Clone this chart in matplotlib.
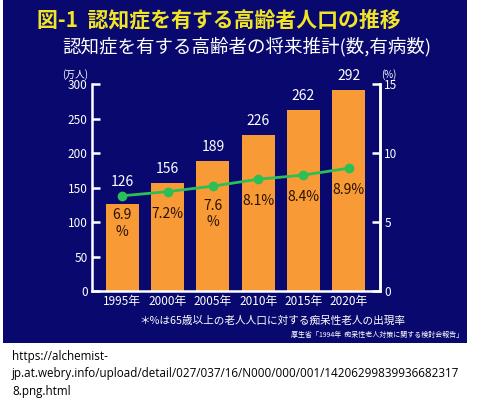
import matplotlib
matplotlib.use("Agg")
import matplotlib.pyplot as plt
from matplotlib.patches import Rectangle

plt.rcParams['font.family'] = ['Noto Sans CJK JP', 'DejaVu Sans']

years = ["1995年", "2000年", "2005年", "2010年", "2015年", "2020年"]
patients = [126, 156, 189, 226, 262, 292]          # 万人
rate = [6.9, 7.2, 7.6, 8.1, 8.4, 8.9]              # %
rate_labels = ["6.9\n%", "7.2%", "7.6\n%", "8.1%", "8.4%", "8.9%"]

title = "図-1  認知症を有する高齢者人口の推移"
subtitle = "認知症を有する高齢者の将来推計(数,有病数)"
note = "＊%は65歳以上の老人人口に対する痴呆性老人の出現率"
source = "厚生省「1994年  痴呆性老人対策に関する検討会報告」"
url = "https://alchemist-\njp.at.webry.info/upload/detail/027/037/16/N000/000/001/14206299839936682317\n8.png.html"

W, H = 480, 403
NAVY = '#08086f'
ORANGE = '#F89B36'
GREEN = '#2BBF55'

fig = plt.figure(figsize=(W/100, H/100), dpi=100)
fig.patch.set_facecolor('white')

def fx(px): return px / W
def fy(py): return 1 - py / H

fig.add_artist(Rectangle((fx(3), fy(343)), fx(464), 343/H, transform=fig.transFigure,
                         facecolor=NAVY, edgecolor='none', zorder=0))

ax = fig.add_axes([fx(92), fy(291), fx(380-92), (291-84)/H])
ax.patch.set_alpha(0)
x = list(range(len(years)))
ax.bar(x, patients, width=0.73, color=ORANGE, zorder=2)
ax.set_xlim(-0.67, 5.69)
ax.set_ylim(0, 300)
ax.set_yticks(range(0, 301, 50))
ax.set_xticks(x)
ax.set_xticklabels(years)
ax.spines['top'].set_visible(False)
for s in ['left', 'right', 'bottom']:
    ax.spines[s].set_color('white')
    ax.spines[s].set_linewidth(1.8)
ax.tick_params(axis='y', direction='in', length=6, width=1.8, colors='white', labelsize=8.5, pad=3)
ax.tick_params(axis='x', length=0, colors='white', labelsize=8.5, pad=3)

ax2 = ax.twinx()
ax2.set_ylim(0, 15)
ax2.set_yticks([0, 5, 10, 15])
for s in ['top', 'left', 'bottom']:
    ax2.spines[s].set_visible(False)
ax2.spines['right'].set_color('white')
ax2.spines['right'].set_linewidth(1.8)
ax2.tick_params(axis='y', direction='in', length=6, width=1.8, colors='white', labelsize=8.5, pad=3)
ax2.plot(x, rate, color=GREEN, lw=2, marker='o', ms=6, zorder=3)

for i, v in enumerate(patients):
    off = 11 if i == 0 else 5
    ax.annotate(str(v), (i, v), xytext=(0, off), textcoords='offset points',
                ha='center', va='bottom', color='white', fontsize=10)

for i, (r, lab) in enumerate(zip(rate, rate_labels)):
    off = -20 if '\n' in lab else -16
    ax2.annotate(lab, (i, r), xytext=(0, off), textcoords='offset points',
                 ha='center', va='center', color='#2a1200', fontsize=10, linespacing=1.2)

fig.text(fx(37), fy(20), title, color='#F0E424', fontsize=15, fontweight='bold', va='center', ha='left')
fig.text(fx(62), fy(47), subtitle, color='white', fontsize=13.3, va='center', ha='left')
fig.text(fx(62), fy(75), "(万人)", color='white', fontsize=7, va='center', ha='left')
fig.text(fx(381), fy(75), "(%)", color='white', fontsize=7, va='center', ha='left')
fig.text(fx(272), fy(321), note, color='white', fontsize=7.7, va='center', ha='center')
fig.text(fx(463), fy(335), source, color='white', fontsize=5, va='center', ha='right')

fig.text(fx(12), fy(350), url, color='black', fontsize=8.4, va='top', ha='left',
         family=['Open Sans', 'DejaVu Sans'], linespacing=1.45)

fig.savefig('out.png', dpi=100, facecolor='white')
